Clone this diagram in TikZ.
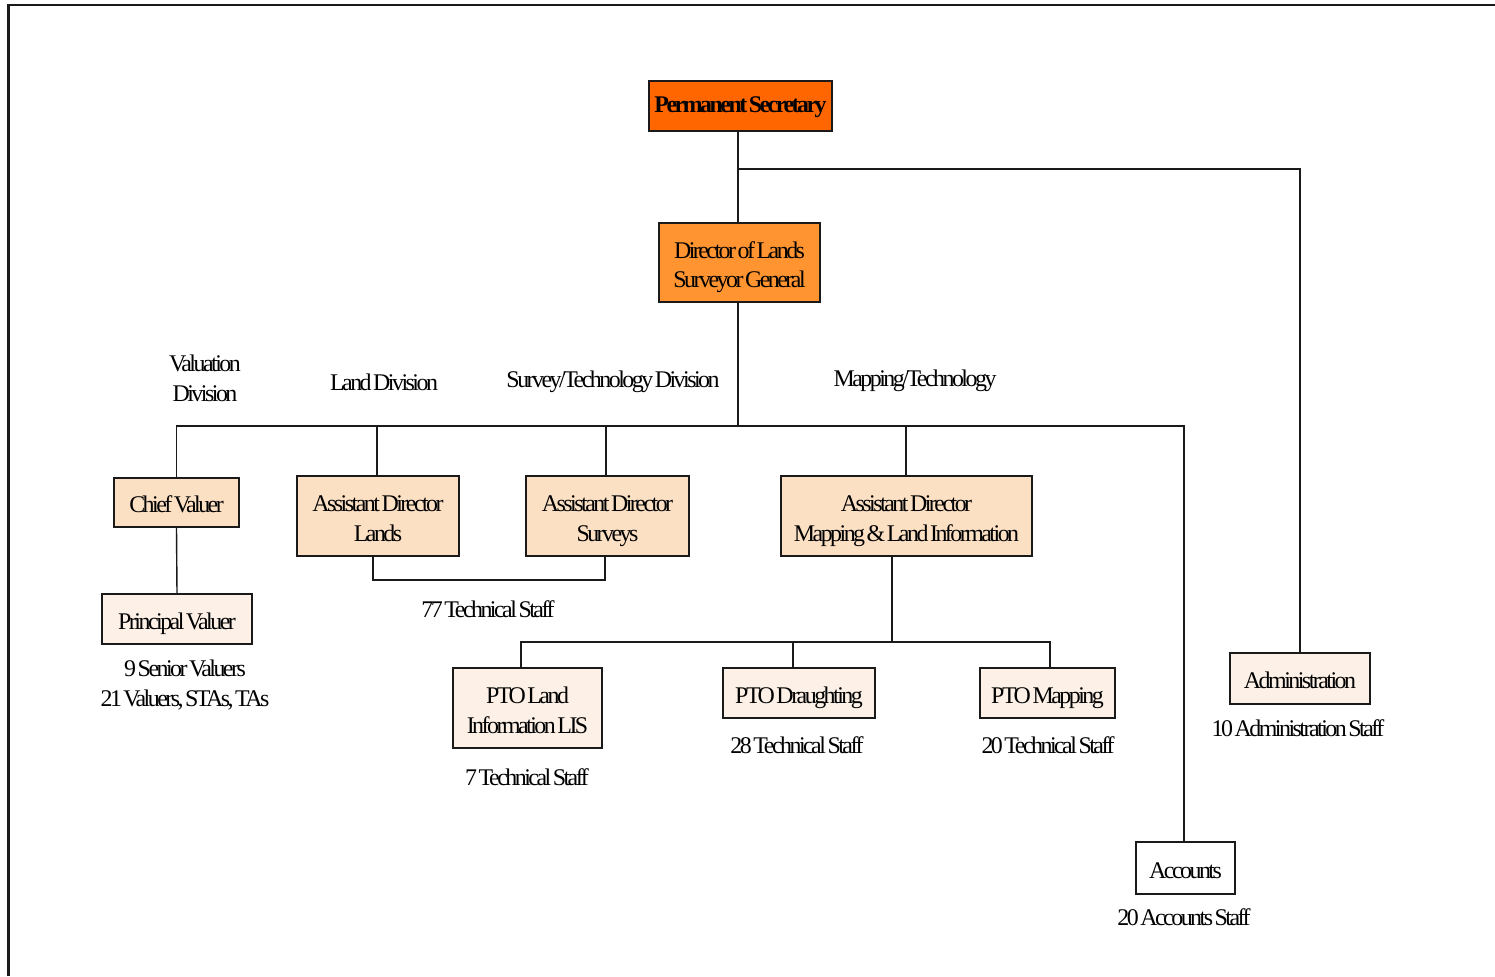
\documentclass[tikz,border=0pt]{standalone}
\usepackage{fontspec}
\setmainfont{Liberation Serif}[LetterSpace=-10.5, WordSpace=0.45]
\newcommand\orgfont{\fontsize{24}{30}\selectfont}
% box text: centred lines, lowered a little inside the frame
\newcommand\bx[1]{\raisebox{-4.5bp}[\height][\depth]{\begin{tabular}{@{}c@{}}#1\end{tabular}}}
\definecolor{psfill}{HTML}{FF6600}
\definecolor{dirfill}{HTML}{FF9430}
\definecolor{peach}{HTML}{FCE0C4}
\definecolor{cream}{HTML}{FDF1E7}
\definecolor{ink}{HTML}{1A1A1A}
\begin{document}
\begin{tikzpicture}[x=1bp,y=-1bp,
  conn/.style={line width=1.4bp, draw=ink},
  box/.style={draw=ink, line width=1.6bp, inner sep=0pt, font=\orgfont},
  lbl/.style={inner sep=0pt, align=center, font=\orgfont}]
\useasboundingbox (0,0) rectangle (1495,976);

% outer frame
\draw[line width=2.2bp, ink] (8.5,976) -- (8.5,5) -- (1495,5);

% top of the hierarchy
\node[box, fill=psfill, minimum width=183bp, minimum height=50bp] (ps) at (740.5,106) {\bx{\raisebox{3.5bp}{\bfseries Permanent Secretary}}};
\node[box, fill=dirfill, minimum width=161bp, minimum height=79bp] (dir) at (739.5,262.5) {\bx{Director of Lands\\Surveyor General}};

% divisions
\node[box, fill=peach, minimum width=125bp, minimum height=49bp] (cv) at (176.5,502.5) {\bx{Chief Valuer}};
\node[box, fill=cream, minimum width=150bp, minimum height=50bp] (pv) at (177,619) {\bx{Principal Valuer}};
\node[box, fill=peach, minimum width=162bp, minimum height=80bp] (adl) at (378,516) {\bx{Assistant Director\\Lands}};
\node[box, fill=peach, minimum width=163bp, minimum height=80bp] (ads) at (607.5,516) {\bx{Assistant Director\\Surveys}};
\node[box, fill=peach, minimum width=251bp, minimum height=80bp] (adm) at (906.5,516) {\bx{Assistant Director\\Mapping \& Land Information}};

% mapping sections
\node[box, fill=cream, minimum width=149bp, minimum height=80bp] (lis) at (527.5,708) {\bx{PTO Land\\Information LIS}};
\node[box, fill=cream, minimum width=152bp, minimum height=50bp] (dra) at (799,693) {\bx{PTO Draughting}};
\node[box, fill=cream, minimum width=135bp, minimum height=50bp] (map) at (1047.5,693) {\bx{PTO Mapping}};

% support units
\node[box, fill=cream, minimum width=140bp, minimum height=51bp] (adn) at (1300,678.5) {\bx{Administration}};
\node[box, fill=white, minimum width=99bp, minimum height=52bp] (acc) at (1185.5,868) {\bx{Accounts}};

% division headings
\node[lbl] (hval) at (205,378) {Valuation\\Division};
\node[lbl] (hland) at (384,382) {Land Division};
\node[lbl] (hsurv) at (613,382) {Survey/Technology Division};
\node[lbl] (hmap) at (915,381) {Mapping/Technology};

% staff counts
\node[lbl] (spv) at (185,685) {9 Senior Valuers\\21 Valuers, STAs, TAs};
\node[lbl] (stech) at (488,609) {77 Technical Staff};
\node[lbl] (slis) at (527,777) {7 Technical Staff};
\node[lbl] (sdra) at (797,745) {28 Technical Staff};
\node[lbl] (smap) at (1048,745) {20 Technical Staff};
\node[lbl] (sadn) at (1298,728) {10 Administration Staff};
\node[lbl] (sacc) at (1184,917) {20 Accounts Staff};

% junction points
\coordinate (jtop) at (738,169);
\coordinate (jbus) at (738,426);
\coordinate (jbrk) at (490,580);
\coordinate (jmap) at (892,642);
\coordinate (jdra) at (793,642);

% connectors
\draw[conn] (ps.south -| jtop) -- (dir.north -| jtop);
\draw[conn] (jtop) -| (adn.north);
\draw[conn] (dir.south -| jbus) -- (jbus);
\draw[conn] (cv.north) |- (jbus) -| ([xshift=-1.5bp]acc.north);
\draw[conn] ([xshift=-1bp]adl.north) -- ([xshift=-1bp]adl.north |- jbus);
\draw[conn] ([xshift=-1.5bp]ads.north) -- ([xshift=-1.5bp]ads.north |- jbus);
\draw[conn] ([xshift=-0.5bp]adm.north) -- ([xshift=-0.5bp]adm.north |- jbus);
\draw[conn] (cv.south) -- (pv.north);
\draw[conn] ([xshift=-5bp]adl.south) |- (jbrk) -| ([xshift=-2.5bp]ads.south);
\draw[conn] (adm.south -| jmap) -- (jmap);
\draw[conn] ([xshift=-6.5bp]lis.north) |- (jmap) -| ([xshift=2.5bp]map.north);
\draw[conn] (jdra) -- (dra.north -| jdra);
\end{tikzpicture}
\end{document}
